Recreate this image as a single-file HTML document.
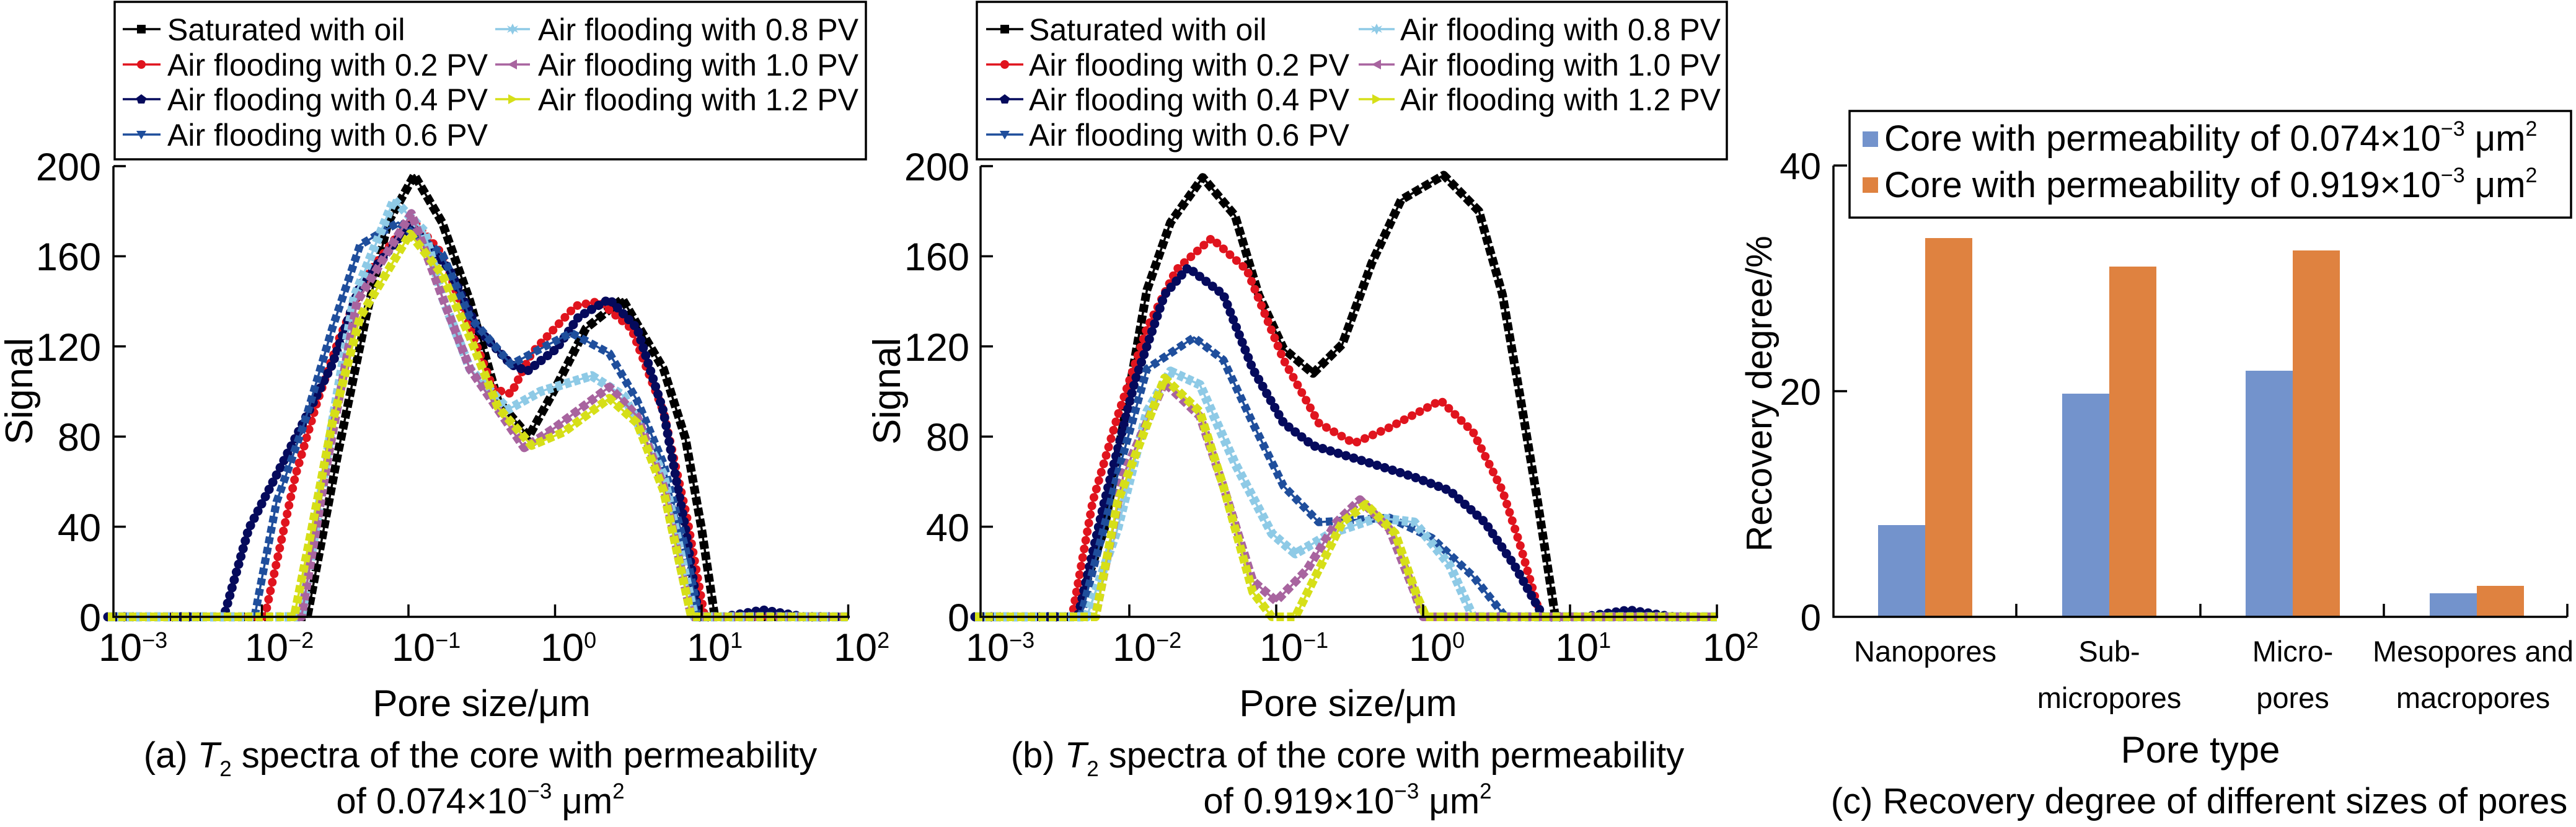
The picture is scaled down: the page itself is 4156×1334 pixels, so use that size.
<!DOCTYPE html>
<html><head><meta charset="utf-8"><style>
html,body{margin:0;padding:0;background:#fff;}
svg{display:block;font-family:"Liberation Sans",Arial,sans-serif;}
</style></head><body>
<svg xmlns="http://www.w3.org/2000/svg" xmlns:xlink="http://www.w3.org/1999/xlink" width="4156" height="1334" viewBox="0 0 4156 1334">
<rect width="4156" height="1334" fill="#fff"/>
<defs>
<path id="a0" d="M174 995 L495.8 995 L545.5 729.6 L590.4 511.5 L625.9 358.9 L668.5 282.5 L713.4 358.9 L758.3 486.1 L803.3 646 L852.9 704.2 L893.1 631.5 L945.2 529.7 L1004.3 482.5 L1070.5 595.2 L1106 707.8 L1132 853.2 L1153.3 995 L1368.5 995"/>
<path id="a1" d="M174 995 L427.2 995 L476.9 766 L512.4 646 L547.9 544.3 L592.8 442.5 L663.7 351.6 L713.4 409.8 L758.3 529.7 L796.2 627.9 L824.5 635.1 L857.7 569.7 L928.6 493.4 L966.5 486.1 L1018.5 529.7 L1070.5 664.2 L1108.4 835.1 L1136.7 995 L1368.5 995"/>
<path id="a2" d="M174 995 L361 995 L401.2 853.2 L446.2 766 L488.7 682.4 L536 587.9 L580.9 460.7 L661.4 362.5 L725.2 435.2 L770.2 529.7 L824.5 587.9 L850.6 598.8 L897.9 562.4 L933.3 511.5 L983 482.5 L1027.9 529.7 L1070.5 664.2 L1106 853.2 L1127.3 995 L1167.5 995 L1231.3 984 L1297.6 995 L1368.5 995"/>
<path id="a3" d="M174 995 L410.7 995 L446.2 809.6 L491.1 682.4 L536 529.7 L580.9 395.2 L642.4 358.9 L713.4 409.8 L758.3 511.5 L824.5 587.9 L886 555.2 L921.5 537 L983 569.7 L1027.9 646 L1070.5 747.8 L1106 885.9 L1127.3 995 L1368.5 995"/>
<path id="a4" d="M174 995 L486.4 995 L536 682.4 L571.5 478.8 L635.4 322.5 L685 373.4 L713.4 478.8 L758.3 595.2 L819.8 660.6 L871.8 631.5 L954.6 606.1 L1006.7 638.8 L1070.5 766 L1120.2 995 L1368.5 995"/>
<path id="a5" d="M174 995 L486.4 995 L528.9 740.6 L576.2 486.1 L663.7 344.3 L713.4 478.8 L758.3 595.2 L845.8 722.4 L895.5 689.7 L983 624.2 L1027.9 671.5 L1070.5 784.2 L1115.4 995 L1368.5 995"/>
<path id="a6" d="M174 995 L474.5 995 L502.9 853.2 L536 682.4 L580.9 511.5 L661.4 377.1 L713.4 442.5 L758.3 544.3 L803.3 656.9 L857.7 718.7 L909.7 696.9 L983 642.4 L1027.9 682.4 L1070.5 791.4 L1115.4 995 L1368.5 995"/>

<path id="b0" d="M1573 995 L1734.3 995 L1781.7 853.2 L1812.5 682.4 L1850.4 467.9 L1888.4 358.9 L1940.5 286.2 L1992.6 348 L2030.6 475.2 L2070.9 562.4 L2118.3 602.4 L2165.7 555.2 L2213.1 424.3 L2260.5 322.5 L2329.2 282.5 L2386.1 340.7 L2424 475.2 L2452.4 638.8 L2480.9 809.6 L2509.3 995 L2770 995"/>
<path id="b1" d="M1573 995 L1729.6 995 L1762.8 809.6 L1803 671.5 L1850.4 529.7 L1897.8 435.2 L1954.7 384.3 L2011.6 435.2 L2070.9 580.6 L2127.7 682.4 L2184.6 715.1 L2241.5 689.7 L2324.4 646 L2376.6 696.9 L2424 791.4 L2452.4 878.7 L2485.6 995 L2770 995"/>
<path id="b2" d="M1573 995 L1739 995 L1781.7 809.6 L1831.5 613.3 L1878.9 475.2 L1916.8 431.6 L1973.7 475.2 L2021.1 595.2 L2070.9 682.4 L2118.3 718.7 L2213.1 747.8 L2281.8 769.6 L2338.7 791.4 L2395.5 842.3 L2442.9 911.4 L2490.3 995 L2556.7 995 L2627.8 984 L2698.9 995 L2770 995"/>
<path id="b3" d="M1573 995 L1743.8 995 L1803 766 L1850.4 595.2 L1926.3 544.3 L1973.7 580.6 L2021.1 682.4 L2070.9 784.2 L2127.7 842.3 L2184.6 838.7 L2241.5 835.1 L2310.2 867.8 L2376.6 929.6 L2428.7 995 L2770 995"/>
<path id="b4" d="M1573 995 L1753.3 995 L1803 853.2 L1850.4 664.2 L1888.4 598.8 L1935.8 620.6 L1992.6 747.8 L2051.9 860.5 L2089.8 893.2 L2146.7 860.5 L2222.5 835.1 L2281.8 842.3 L2338.7 911.4 L2376.6 995 L2770 995"/>
<path id="b5" d="M1573 995 L1767.5 995 L1812.5 766 L1878.9 617 L1935.8 671.5 L1973.7 784.2 L2021.1 936.8 L2059 969.6 L2108.8 918.7 L2156.2 842.3 L2194.1 806 L2241.5 853.2 L2281.8 955 L2296 995 L2770 995"/>
<path id="b6" d="M1573 995 L1767.5 995 L1803 809.6 L1878.9 609.7 L1935.8 664.2 L1973.7 784.2 L2021.1 955 L2051.9 995 L2089.8 995 L2127.7 918.7 L2165.7 842.3 L2203.6 813.3 L2251 860.5 L2286.5 962.3 L2300.7 995 L2770 995"/>
</defs>

<g fill="none" stroke-linejoin="round">
<g stroke="#000000"><use xlink:href="#a0" stroke-width="3.5"/><use xlink:href="#a0" stroke-width="14" stroke-dasharray="13 5"/><use xlink:href="#b0" stroke-width="3.5"/><use xlink:href="#b0" stroke-width="14" stroke-dasharray="13 5"/></g>
<g stroke="#e0141e"><use xlink:href="#a1" stroke-width="3.5"/><use xlink:href="#a1" stroke-width="14" stroke-linecap="round" stroke-dasharray="0.1 14"/><use xlink:href="#b1" stroke-width="3.5"/><use xlink:href="#b1" stroke-width="14" stroke-linecap="round" stroke-dasharray="0.1 14"/></g>
<g stroke="#050a5c"><use xlink:href="#a2" stroke-width="3.5"/><use xlink:href="#a2" stroke-width="15" stroke-linecap="round" stroke-dasharray="0.1 13"/><use xlink:href="#b2" stroke-width="3.5"/><use xlink:href="#b2" stroke-width="15" stroke-linecap="round" stroke-dasharray="0.1 13"/></g>
<g stroke="#1f4e9c"><use xlink:href="#a3" stroke-width="3.5"/><use xlink:href="#a3" stroke-width="13" stroke-dasharray="11 6"/><use xlink:href="#b3" stroke-width="3.5"/><use xlink:href="#b3" stroke-width="13" stroke-dasharray="11 6"/></g>
<g stroke="#8ecae6"><use xlink:href="#a4" stroke-width="3.5"/><use xlink:href="#a4" stroke-width="15" stroke-dasharray="10 5"/><use xlink:href="#b4" stroke-width="3.5"/><use xlink:href="#b4" stroke-width="15" stroke-dasharray="10 5"/></g>
<g stroke="#a8649f"><use xlink:href="#a5" stroke-width="3.5"/><use xlink:href="#a5" stroke-width="14" stroke-dasharray="12 5"/><use xlink:href="#b5" stroke-width="3.5"/><use xlink:href="#b5" stroke-width="14" stroke-dasharray="12 5"/></g>
<g stroke="#d6df18"><use xlink:href="#a6" stroke-width="3.5"/><use xlink:href="#a6" stroke-width="14" stroke-dasharray="12 5"/><use xlink:href="#b6" stroke-width="3.5"/><use xlink:href="#b6" stroke-width="14" stroke-dasharray="12 5"/></g>
</g>

<g stroke="#000" stroke-width="3.5" fill="none">
<path d="M183 268 V995 H1371"/>
<path d="M183 268 h20 M183 413.4 h20 M183 558.8 h20 M183 704.2 h20 M183 849.6 h20"/>
<path d="M422.5 995 v-20 M659 995 v-20 M895.5 995 v-20 M1132 995 v-20 M1368.5 995 v-20"/>
<rect x="185" y="3" width="1212" height="254"/>
</g>
<g font-size="63" text-anchor="end">
<text x="163" y="291">200</text><text x="163" y="436">160</text><text x="163" y="582">120</text>
<text x="163" y="727">80</text><text x="163" y="873">40</text><text x="163" y="1018">0</text>
</g>
<g font-size="63">
<text x="159" y="1066">10<tspan font-size="36" dy="-21">−3</tspan></text>
<text x="395" y="1066">10<tspan font-size="36" dy="-21">−2</tspan></text>
<text x="632" y="1066">10<tspan font-size="36" dy="-21">−1</tspan></text>
<text x="872" y="1066">10<tspan font-size="36" dy="-21">0</tspan></text>
<text x="1108" y="1066">10<tspan font-size="36" dy="-21">1</tspan></text>
<text x="1345" y="1066">10<tspan font-size="36" dy="-21">2</tspan></text>
</g>
<text transform="translate(52,631) rotate(-90)" font-size="62" text-anchor="middle">Signal</text>
<text x="777" y="1155" font-size="60" text-anchor="middle">Pore size/μm</text>
<text x="775" y="1238" font-size="58" text-anchor="middle">(a) <tspan font-style="italic">T</tspan><tspan font-size="35" dy="14">2</tspan><tspan dy="-14"> spectra of the core with permeability</tspan></text>
<text x="775" y="1312" font-size="58" text-anchor="middle">of 0.074×10<tspan font-size="35" dy="-24">−3</tspan><tspan dy="24"> μm</tspan><tspan font-size="35" dy="-24">2</tspan></text>

<g stroke="#000" stroke-width="3.5" fill="none">
<path d="M1582 268 V995 H2772"/>
<path d="M1582 268 h20 M1582 413.4 h20 M1582 558.8 h20 M1582 704.2 h20 M1582 849.6 h20"/>
<path d="M1822 995 v-20 M2059 995 v-20 M2296 995 v-20 M2533 995 v-20 M2770 995 v-20"/>
<rect x="1576" y="3" width="1210" height="254"/>
</g>
<g font-size="63" text-anchor="end">
<text x="1564" y="291">200</text><text x="1564" y="436">160</text><text x="1564" y="582">120</text>
<text x="1564" y="727">80</text><text x="1564" y="873">40</text><text x="1564" y="1018">0</text>
</g>
<g font-size="63">
<text x="1558" y="1066">10<tspan font-size="36" dy="-21">−3</tspan></text>
<text x="1795" y="1066">10<tspan font-size="36" dy="-21">−2</tspan></text>
<text x="2032" y="1066">10<tspan font-size="36" dy="-21">−1</tspan></text>
<text x="2273" y="1066">10<tspan font-size="36" dy="-21">0</tspan></text>
<text x="2509" y="1066">10<tspan font-size="36" dy="-21">1</tspan></text>
<text x="2747" y="1066">10<tspan font-size="36" dy="-21">2</tspan></text>
</g>
<text transform="translate(1452,631) rotate(-90)" font-size="62" text-anchor="middle">Signal</text>
<text x="2175" y="1155" font-size="60" text-anchor="middle">Pore size/μm</text>
<text x="2174" y="1238" font-size="58" text-anchor="middle">(b) <tspan font-style="italic">T</tspan><tspan font-size="35" dy="14">2</tspan><tspan dy="-14"> spectra of the core with permeability</tspan></text>
<text x="2174" y="1312" font-size="58" text-anchor="middle">of 0.919×10<tspan font-size="35" dy="-24">−3</tspan><tspan dy="24"> μm</tspan><tspan font-size="35" dy="-24">2</tspan></text>

<g font-size="50">
<text x="270" y="65">Saturated with oil</text>
<text x="270" y="122">Air flooding with 0.2 PV</text>
<text x="270" y="178">Air flooding with 0.4 PV</text>
<text x="270" y="235">Air flooding with 0.6 PV</text>
<text x="868" y="65">Air flooding with 0.8 PV</text>
<text x="868" y="122">Air flooding with 1.0 PV</text>
<text x="868" y="178">Air flooding with 1.2 PV</text>
<text x="1660" y="65">Saturated with oil</text>
<text x="1660" y="122">Air flooding with 0.2 PV</text>
<text x="1660" y="178">Air flooding with 0.4 PV</text>
<text x="1660" y="235">Air flooding with 0.6 PV</text>
<text x="2259" y="65">Air flooding with 0.8 PV</text>
<text x="2259" y="122">Air flooding with 1.0 PV</text>
<text x="2259" y="178">Air flooding with 1.2 PV</text>
</g>
<g stroke-width="3.5">
<path d="M198 47H259 M1591 47H1651" stroke="#000"/>
<rect x="221" y="40" width="14" height="14" fill="#000"/><rect x="1614" y="40" width="14" height="14" fill="#000"/>
<path d="M198 104H259 M1591 104H1651" stroke="#e0141e"/>
<circle cx="228" cy="104" r="7" fill="#e0141e"/><circle cx="1621" cy="104" r="7" fill="#e0141e"/>
<path d="M198 160H259 M1591 160H1651" stroke="#050a5c"/>
<polygon points="228,152 236,158 233,167 223,167 220,158" fill="#050a5c"/><polygon points="1621,152 1629,158 1626,167 1616,167 1613,158" fill="#050a5c"/>
<path d="M198 217H259 M1591 217H1651" stroke="#1f4e9c"/>
<polygon points="220,211 236,211 228,225" fill="#1f4e9c"/><polygon points="1613,211 1629,211 1621,225" fill="#1f4e9c"/>
<path d="M799 47H855 M2192 47H2250" stroke="#8ecae6"/>
<polygon points="827,38 830,44 836,41 832,47 836,53 830,50 827,56 824,50 818,53 822,47 818,41 824,44" fill="#8ecae6"/>
<polygon points="2221,38 2224,44 2230,41 2226,47 2230,53 2224,50 2221,56 2218,50 2212,53 2216,47 2212,41 2218,44" fill="#8ecae6"/>
<path d="M799 104H855 M2192 104H2250" stroke="#a8649f"/>
<polygon points="834,96 834,112 819,104" fill="#a8649f"/><polygon points="2228,96 2228,112 2213,104" fill="#a8649f"/>
<path d="M799 160H855 M2192 160H2250" stroke="#d6df18"/>
<polygon points="820,152 820,168 835,160" fill="#d6df18"/><polygon points="2214,152 2214,168 2229,160" fill="#d6df18"/>
</g>

<g>
<rect x="3030" y="847" width="76" height="148" fill="#7393cc"/>
<rect x="3106" y="384" width="76" height="611" fill="#df8240"/>
<rect x="3327" y="635" width="76" height="360" fill="#7393cc"/>
<rect x="3403" y="430" width="76" height="565" fill="#df8240"/>
<rect x="3623" y="598" width="76" height="397" fill="#7393cc"/>
<rect x="3699" y="404" width="76" height="591" fill="#df8240"/>
<rect x="3920" y="957" width="76" height="38" fill="#7393cc"/>
<rect x="3996" y="945" width="76" height="50" fill="#df8240"/>
</g>
<g stroke="#000" stroke-width="3.5" fill="none">
<path d="M2958 267 V995 H4142"/>
<path d="M2958 267 h22 M2958 631 h22"/>
<path d="M3253 995 v-21 M3550 995 v-21 M3846 995 v-21 M4142 995 v-21"/>
<rect x="2984" y="179" width="1164" height="172"/>
</g>
<rect x="3005" y="212" width="25" height="25" fill="#7393cc"/>
<rect x="3005" y="286" width="25" height="25" fill="#df8240"/>
<g font-size="58">
<text x="3040" y="243">Core with permeability of 0.074×10<tspan font-size="34" dy="-24">−3</tspan><tspan dy="24"> μm</tspan><tspan font-size="34" dy="-24">2</tspan></text>
<text x="3040" y="318">Core with permeability of 0.919×10<tspan font-size="34" dy="-24">−3</tspan><tspan dy="24"> μm</tspan><tspan font-size="34" dy="-24">2</tspan></text>
</g>
<g font-size="60" text-anchor="end">
<text x="2938" y="289">40</text><text x="2938" y="653">20</text><text x="2938" y="1017">0</text>
</g>
<text transform="translate(2858,635) rotate(-90)" font-size="58" text-anchor="middle">Recovery degree/%</text>
<g font-size="47" text-anchor="middle">
<text x="3106" y="1067">Nanopores</text>
<text x="3403" y="1067">Sub-</text><text x="3403" y="1142">micropores</text>
<text x="3699" y="1067">Micro-</text><text x="3699" y="1142">pores</text>
<text x="3990" y="1067">Mesopores and</text><text x="3990" y="1142">macropores</text>
</g>
<text x="3550" y="1230" font-size="60" text-anchor="middle">Pore type</text>
<text x="3548" y="1312" font-size="58" text-anchor="middle">(c) Recovery degree of different sizes of pores</text>
</svg>
</body></html>
